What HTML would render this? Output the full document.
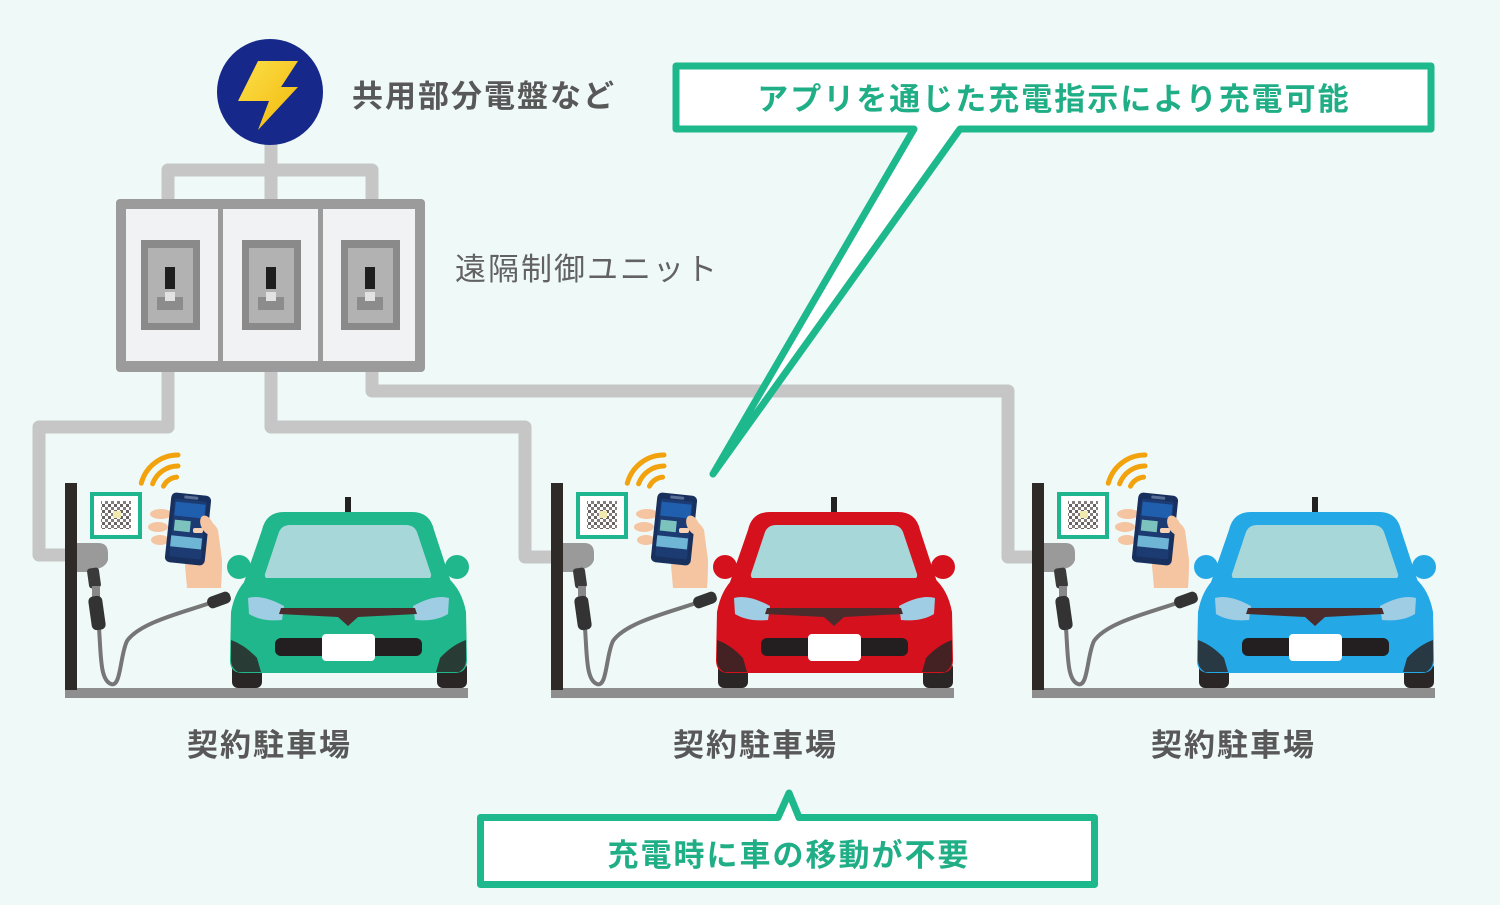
<!DOCTYPE html>
<html><head><meta charset="utf-8"><style>
html,body{margin:0;padding:0;background:#eff9f7;}
svg{display:block;}
.t{font-family:"Liberation Sans","Noto Sans CJK JP",sans-serif;}
</style></head><body>
<svg width="1500" height="905" viewBox="0 0 1500 905" xmlns="http://www.w3.org/2000/svg">
<defs>
<pattern id="qr" width="6" height="6" patternUnits="userSpaceOnUse">
<rect width="6" height="6" fill="#fff"/><rect width="3" height="3" fill="#6a6262"/><rect x="3" y="3" width="3" height="3" fill="#857c7c"/>
</pattern>
<linearGradient id="bolt" x1="0" y1="0" x2="1" y2="1"><stop offset="0" stop-color="#fbe04a"/><stop offset="1" stop-color="#f3b80a"/></linearGradient>
</defs>
<rect width="1500" height="905" fill="#eff9f7"/>

<!-- wires -->
<g fill="none" stroke="#c6c6c6" stroke-width="13" stroke-linejoin="round">
<path d="M168 205 L168 170 L372 170 L372 205"/>
<path d="M271 140 L271 205"/>
<path d="M168 365 L168 427 L39 427 L39 555 L70 555"/>
<path d="M271 365 L271 427 L525 427 L525 557 L556 557"/>
<path d="M372 365 L372 391 L1008 391 L1008 557 L1037 557"/>
</g>

<!-- power circle -->
<circle cx="270" cy="92" r="53" fill="#16298a"/>
<polygon points="258,61 298,61 281,87 298,87 258,130 269,101 238,101" fill="url(#bolt)"/>

<!-- breaker box -->
<rect x="116" y="199" width="309" height="173" rx="4" fill="#9b9b9b"/>
<rect x="126" y="209" width="92" height="152" fill="#f1f2f4"/>
<rect x="223" y="209" width="95" height="152" fill="#f1f2f4"/>
<rect x="323" y="209" width="92" height="152" fill="#f1f2f4"/>
<g id="sw">
<rect x="141" y="240" width="59" height="90" fill="#8a8a8a"/>
<rect x="148" y="248" width="45" height="75" fill="#b2b2b2"/>
<rect x="157" y="297" width="26" height="13" fill="#8c8c8c"/>
<rect x="165" y="292" width="10" height="9" fill="#e2e2e2"/>
<rect x="165" y="267" width="10" height="22" fill="#1e1e1e"/>
</g>
<use href="#sw" x="101"/>
<use href="#sw" x="200"/>

<!-- station + car unit -->
<g style="color:#1fb78b">
<g id="unit">
<rect x="65" y="688" width="403" height="10" fill="#8e8e8e"/>
<path d="M99 628 C101 655 100 680 111 684 C121 688 120 655 127 641 C140 622 185 612 213 602" fill="none" stroke="#767676" stroke-width="4"/>
<rect x="207" y="594" width="24" height="12" rx="5" fill="#333" transform="rotate(-20 219 600)"/>
<rect x="65" y="483" width="12" height="207" fill="#2e2a28"/>
<path d="M77 543 L98 543 Q108 543 108 553 L108 560 Q106 566 100 568 L90 572 L77 572 Z" fill="#9a9a9a"/>
<rect x="88" y="568" width="12" height="20" rx="3" fill="#3a3a3a" transform="rotate(-8 94 578)"/>
<rect x="92" y="586" width="8" height="12" fill="#888"/>
<rect x="90" y="596" width="14" height="34" rx="5" fill="#333" transform="rotate(-8 97 613)"/>
<rect x="92" y="494" width="48" height="43" fill="#fff" stroke="#1fb58f" stroke-width="4"/>
<rect x="101" y="501" width="30" height="28" fill="url(#qr)"/>
<rect x="113" y="511" width="8" height="7" fill="#f1eab0"/>
<g fill="none" stroke="#f2a20c" stroke-width="5" stroke-linecap="round">
<path d="M141.3 483.2 A38 38 0 0 1 178 455"/>
<path d="M152.6 483.8 A27 27 0 0 1 178 466"/>
<path d="M163.5 486.2 A16 16 0 0 1 176.6 477.1"/>
</g>
<g fill="#f5c4a1">
<ellipse cx="161" cy="514" rx="11" ry="5"/>
<ellipse cx="158" cy="527" rx="10" ry="5"/>
<ellipse cx="160" cy="540" rx="9" ry="5"/>
<path d="M195 520 Q212 517 218 530 L222 560 Q222 575 221 588 L187 588 L185 565 Z"/>
</g>
<g transform="rotate(6 188 529)">
<rect x="168" y="494" width="40" height="70" rx="5" fill="#18305e"/>
<rect x="172" y="500" width="32" height="58" rx="2" fill="#1c3b73"/>
<rect x="181" y="496" width="14" height="3" rx="1" fill="#5a6f95"/>
<rect x="173" y="503" width="30" height="14" fill="#1f5fae"/>
<rect x="174" y="521" width="16" height="11" fill="#7cc3bd"/>
<rect x="172" y="537" width="31" height="11" fill="#6fb5d6"/>
</g>
<ellipse cx="207" cy="525" rx="6" ry="10" fill="#f5c4a1" transform="rotate(-25 207 525)"/>
<rect x="193" y="528" width="10" height="5" rx="2" fill="#f8d2b5"/>
<rect x="345" y="497" width="6" height="16" fill="#222"/>
<rect x="232" y="662" width="30" height="26" rx="6" fill="#2a2626"/>
<rect x="437" y="662" width="30" height="26" rx="6" fill="#2a2626"/>
<ellipse cx="239" cy="567" rx="12" ry="12" fill="currentColor"/>
<ellipse cx="457" cy="567" rx="12" ry="12" fill="currentColor"/>
<path d="M262 530 Q266 512 284 512 L412 512 Q430 512 434 530 L452 585 L243 585 Z" fill="currentColor"/>
<path d="M290 525 L406 525 Q414 525 417 532 L431 574 Q432 579 426 579 L270 579 Q264 579 265 574 L279 532 Q282 525 290 525 Z" fill="#a7d7d9"/>
<path d="M248 578 L448 578 Q462 590 466 612 L467 660 Q467 673 455 673 L242 673 Q230 673 230 660 L231 612 Q235 590 248 578 Z" fill="currentColor"/>
<path d="M248 598 Q262 594 284 606 L282 620 Q262 622 249 614 Z" fill="#9fcde3"/>
<path d="M449 598 Q435 594 413 606 L415 620 Q435 622 448 614 Z" fill="#9fcde3"/>
<path d="M281 608 L415 608 L417 614 L358 617 L348 626 L338 617 L279 614 Z" fill="#4a2c2c"/>
<rect x="275" y="638" width="147" height="18" rx="6" fill="#231f20"/>
<rect x="322" y="634" width="53" height="27" rx="4" fill="#fff"/>
<path d="M231 640 Q245 645 257 658 L261 672 L238 672 Q231 668 231 660 Z" fill="#2a2626" opacity="0.85"/>
<path d="M466 640 Q452 645 440 658 L436 672 L459 672 Q466 668 466 660 Z" fill="#2a2626" opacity="0.85"/>
</g>
</g>
<use href="#unit" x="486" style="color:#d6111e"/>
<use href="#unit" x="967" style="color:#25a8e6"/>

<!-- labels -->
<g class="t" font-size="31" style="letter-spacing:2px">
<text x="352" y="107" fill="#585858" font-weight="bold">共用部分電盤など</text>
<text x="455" y="280" fill="#626262">遠隔制御ユニット</text>
<text x="187" y="756" fill="#585858" font-weight="bold">契約駐車場</text>
<text x="673" y="756" fill="#585858" font-weight="bold">契約駐車場</text>
<text x="1151" y="756" fill="#585858" font-weight="bold">契約駐車場</text>
</g>

<!-- callouts -->
<path d="M676 66 H1431 V129 H960 L713 474 L914 129 H676 Z" fill="#fff" stroke="#1db88c" stroke-width="7" stroke-linejoin="round"/>
<path d="M480.5 817.5 H778 L789 793 L799 817.5 H1094.5 V884.5 H480.5 Z" fill="#fff" stroke="#1db88c" stroke-width="7" stroke-linejoin="round"/>
<g class="t" font-size="31" font-weight="bold" fill="#1fae85" text-anchor="middle" style="letter-spacing:2px">
<text x="1054" y="110">アプリを通じた充電指示により充電可能</text>
<text x="789" y="866">充電時に車の移動が不要</text>
</g>
</svg>
</body></html>
